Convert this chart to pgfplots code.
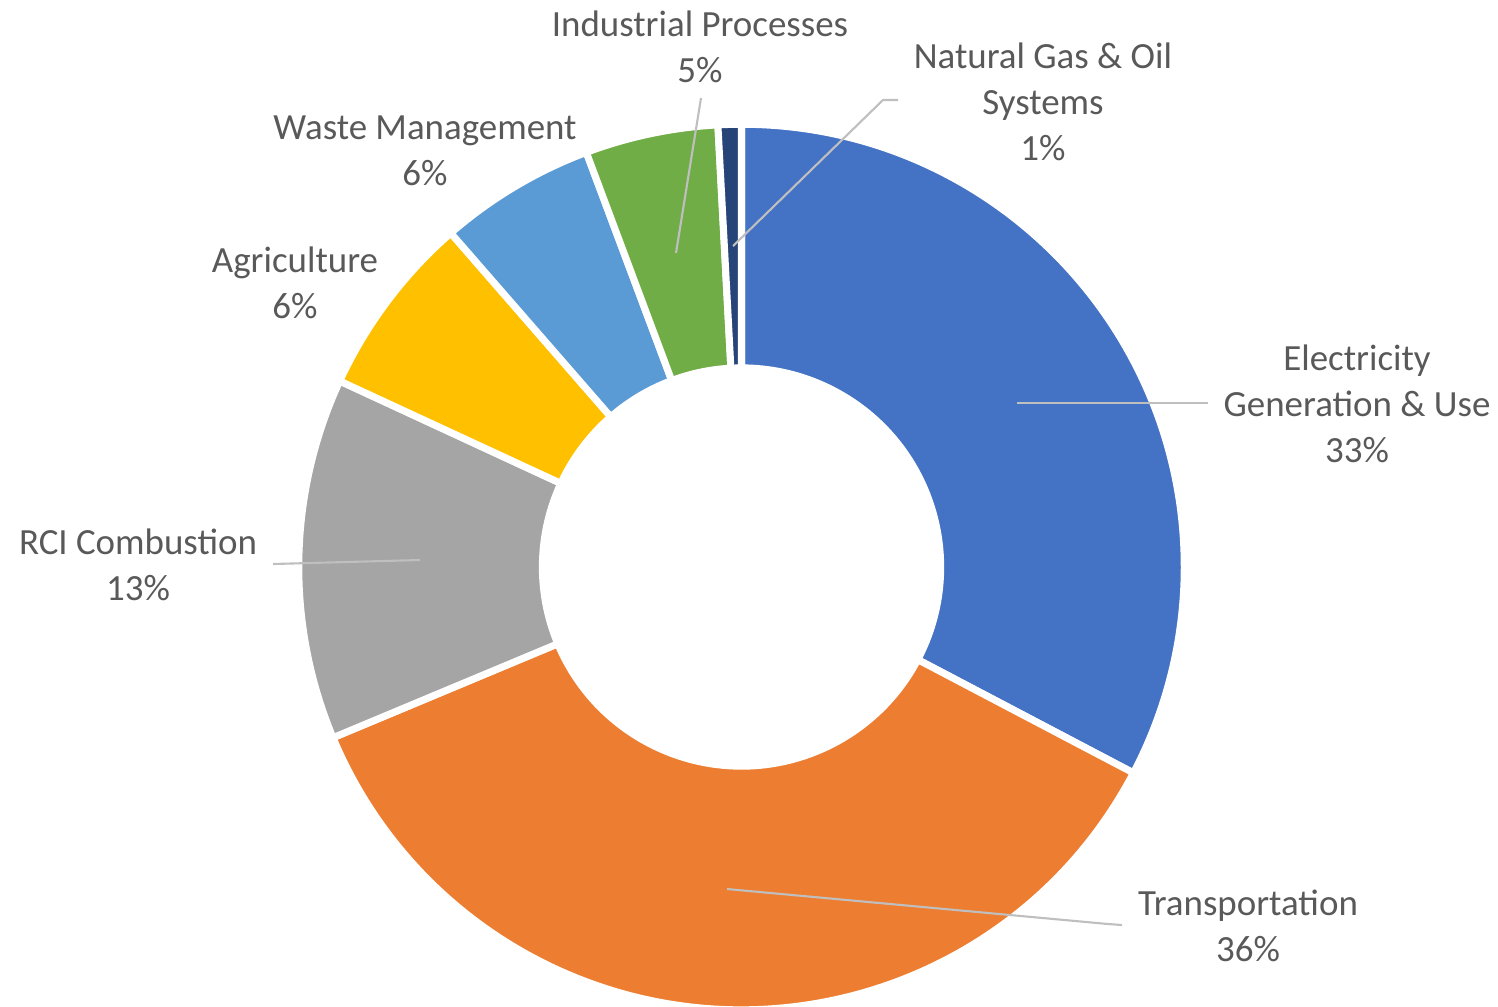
\documentclass[border=0pt]{standalone}
\usepackage{pgfplots}
\pgfplotsset{compat=1.18}
\usepackage{pgfplotstable}
\usepackage{fontspec}
\setmainfont{Carlito}
\definecolor{s0}{HTML}{4472C4}
\definecolor{s1}{HTML}{ED7D31}
\definecolor{s2}{HTML}{A5A5A5}
\definecolor{s3}{HTML}{FFC000}
\definecolor{s4}{HTML}{5B9BD5}
\definecolor{s5}{HTML}{70AD47}
\definecolor{s6}{HTML}{264478}
\definecolor{txt}{HTML}{595959}
\definecolor{lead}{HTML}{BFBFBF}

% shares in percent, clockwise from 12 o'clock
\pgfplotstableread{
share
32.7
36.0
13.2
6.7
5.7
4.85
0.85
}\shares

\begin{document}
\begin{tikzpicture}[lbl/.style={align=center, text=txt, inner sep=0pt,
    font=\fontsize{10.5pt}{13.1pt}\selectfont}]
\def\cum{0}
\gdef\wedges{}
\pgfplotsforeachungrouped \i in {0,...,6}{%
  \pgfplotstablegetelem{\i}{share}\of\shares
  \pgfmathsetmacro\aa{90-3.6*\cum}%
  \pgfmathsetmacro\cum{\cum+\pgfplotsretval}%
  \pgfmathsetmacro\bb{90-3.6*\cum}%
  \xdef\wedges{\unexpanded\expandafter{\wedges}%
    \noexpand\filldraw[fill=s\i, draw=white, line width=2pt]
    ([shift={(\aa:4.425cm)}]axis cs:741.5,567)
    arc[start angle=\aa, end angle=\bb, radius=4.425cm]
    -- ([shift={(\bb:1.99cm)}]axis cs:741.5,567)
    arc[start angle=\bb, end angle=\aa, radius=1.99cm] -- cycle;}%
}
\begin{axis}[hide axis, scale only axis, x=0.01cm, y=0.01cm,
  xmin=0, xmax=1498, ymin=0, ymax=1006, y dir=reverse,
  clip=false, enlargelimits=false]
\wedges
\draw[lead, line width=0.6pt] (axis cs:1017,403) -- (axis cs:1208,403);
\draw[lead, line width=0.6pt] (axis cs:727,889) -- (axis cs:1108,924) -- (axis cs:1122,925);
\draw[lead, line width=0.6pt] (axis cs:420,560) -- (axis cs:273,564);
\draw[lead, line width=0.6pt] (axis cs:676,253) -- (axis cs:701,98);
\draw[lead, line width=0.6pt] (axis cs:733,246) -- (axis cs:883,100) -- (axis cs:898,100);
\node[lbl] at (axis cs:700,47) {Industrial Processes\\5\%};
\node[lbl] at (axis cs:1043,102) {Natural Gas \& Oil\\Systems\\1\%};
\node[lbl] at (axis cs:425,151) {Waste Management\\6\%};
\node[lbl] at (axis cs:295,283) {Agriculture\\6\%};
\node[lbl] at (axis cs:138,565) {RCI Combustion\\13\%};
\node[lbl] at (axis cs:1357,404) {Electricity\\Generation \& Use\\33\%};
\node[lbl] at (axis cs:1248,926) {Transportation\\36\%};
\end{axis}
\pgfresetboundingbox
\path[use as bounding box] (current axis.south west) rectangle (current axis.north east);
\end{tikzpicture}
\end{document}
